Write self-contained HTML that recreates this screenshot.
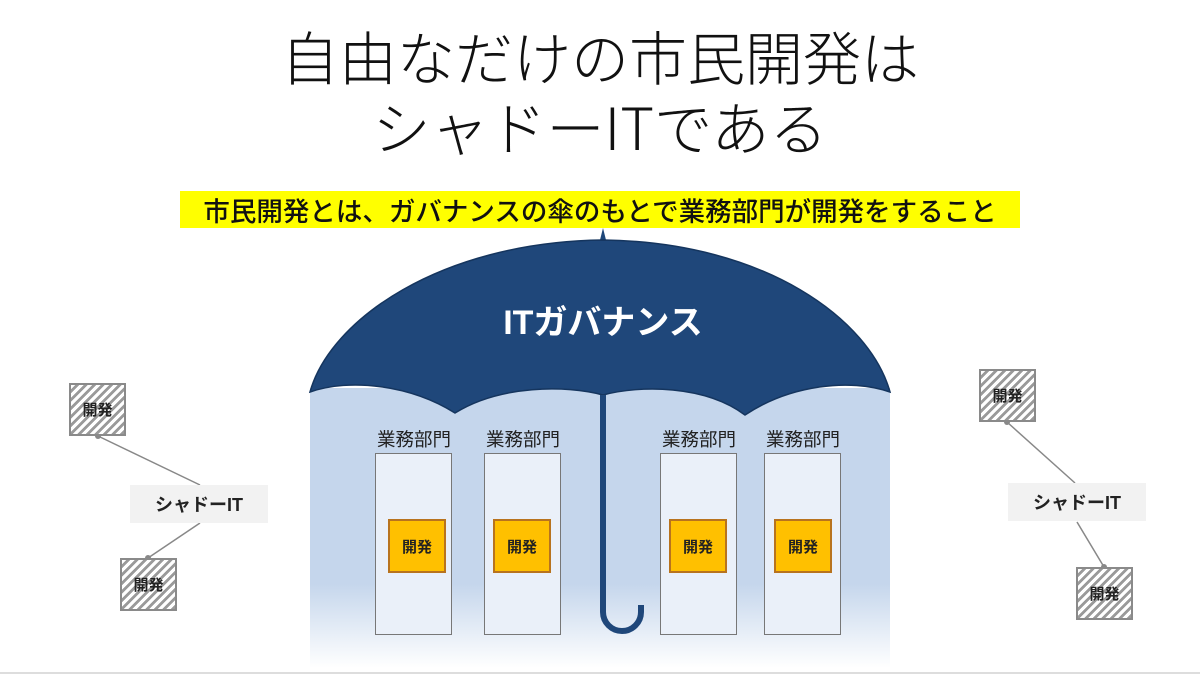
<!DOCTYPE html>
<html><head><meta charset="utf-8"><style>
html,body{margin:0;padding:0;background:#fff;}
body{width:1200px;height:675px;position:relative;overflow:hidden;font-family:"Liberation Sans","Noto Sans CJK JP",sans-serif;}
.t{position:absolute;left:0;width:1200px;text-align:center;font-family:"Noto Sans CJK JP",sans-serif;font-weight:300;font-size:58px;color:#111;line-height:1;white-space:nowrap;}
.abs{position:absolute;}
.lbl{position:absolute;font-size:18.5px;color:#222;text-align:center;width:100px;font-family:"Noto Sans CJK JP",sans-serif;line-height:22px;}
.col{position:absolute;top:453px;width:77px;height:182px;background:#eaf0f9;border:1px solid #777;box-sizing:border-box;}
.dev{position:absolute;top:519px;width:58px;height:54px;background:#ffc000;border:2px solid #b8731e;box-sizing:border-box;font-weight:bold;font-size:15px;display:flex;align-items:center;justify-content:center;color:#222;}
.hat{position:absolute;width:57px;height:53px;box-sizing:border-box;border:2px solid #8a8a8a;background:repeating-linear-gradient(135deg,#fff 0 3px,#9a9a9a 3px 6px);display:flex;align-items:center;justify-content:center;font-weight:bold;font-size:15px;color:#222;}
.sh{position:absolute;width:138px;height:38px;background:#f2f2f2;display:flex;align-items:center;justify-content:center;font-weight:bold;font-size:18px;color:#222;}
</style></head><body>
<div class="t" style="top:26px;">自由なだけの市民開発は</div>
<div class="t" style="top:96px;">シャドーITである</div>
<div class="abs" style="left:180px;top:191px;width:840px;height:37px;background:#ffff00;"></div>
<div class="abs" style="left:180px;top:191px;width:840px;height:37px;line-height:37px;text-align:center;font-size:26.5px;font-weight:500;color:#111;white-space:nowrap;font-family:'Noto Sans CJK JP',sans-serif;">市民開発とは、ガバナンスの傘のもとで業務部門が開発をすること</div>

<svg class="abs" style="left:0;top:0" width="1200" height="675">
<defs>
<linearGradient id="g" x1="0" y1="0" x2="0" y2="1">
<stop offset="0" stop-color="#c5d6ec"/><stop offset="0.7" stop-color="#c5d6ec"/><stop offset="1" stop-color="#ffffff"/>
</linearGradient>
</defs>
<rect x="310" y="388" width="580" height="280" fill="url(#g)"/>
<path d="M600 240 L603 228 L606 240 Z" fill="#1f477a"/>
<path d="M310 392 C330 320 440 242 603 240 C766 242 870 320 890 392 C850 378 790 385 745 415 C705 385 640 385 603 395 C566 385 500 385 455 413 C410 385 350 378 310 392 Z" fill="#1f477a" stroke="#15355e" stroke-width="1.5"/>
<path d="M603 395 L603 612 A19 19 0 0 0 641 612 L641 605" fill="none" stroke="#1f477a" stroke-width="6"/>
<text x="603" y="334" text-anchor="middle" font-family="Liberation Sans,Noto Sans CJK JP,sans-serif" font-weight="bold" font-size="34" fill="#fff">ITガバナンス</text>
<g stroke="#888" stroke-width="1.5">
<line x1="98" y1="436" x2="200" y2="485"/><line x1="200" y1="523" x2="148" y2="558"/>
<line x1="1007" y1="422" x2="1075" y2="483"/><line x1="1077" y1="522" x2="1104" y2="567"/>
</g>
<g fill="#888"><circle cx="98" cy="436" r="3"/><circle cx="148" cy="558" r="3"/><circle cx="1007" cy="422" r="3"/><circle cx="1104" cy="567" r="3"/></g>
<line x1="0" y1="673" x2="1200" y2="673" stroke="#ddd" stroke-width="2"/>
</svg>

<div class="lbl" style="left:364px;top:428px;">業務部門</div>
<div class="lbl" style="left:473px;top:428px;">業務部門</div>
<div class="lbl" style="left:649px;top:428px;">業務部門</div>
<div class="lbl" style="left:753px;top:428px;">業務部門</div>
<div class="col" style="left:375px;"></div>
<div class="col" style="left:484px;"></div>
<div class="col" style="left:660px;"></div>
<div class="col" style="left:764px;"></div>
<div class="dev" style="left:388px;">開発</div>
<div class="dev" style="left:493px;">開発</div>
<div class="dev" style="left:669px;">開発</div>
<div class="dev" style="left:774px;">開発</div>

<div class="hat" style="left:69px;top:383px;">開発</div>
<div class="hat" style="left:120px;top:558px;">開発</div>
<div class="hat" style="left:979px;top:369px;">開発</div>
<div class="hat" style="left:1076px;top:567px;">開発</div>
<div class="sh" style="left:130px;top:485px;">シャドーIT</div>
<div class="sh" style="left:1008px;top:483px;">シャドーIT</div>
</body></html>
